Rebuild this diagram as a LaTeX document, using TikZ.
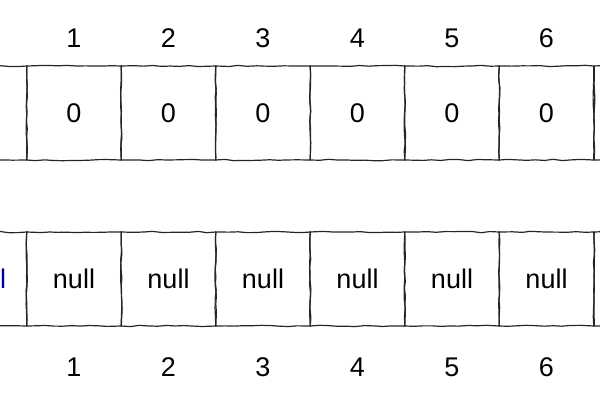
\documentclass[tikz,border=0pt]{standalone}
\usepackage{fontspec}
\setmainfont{Liberation Sans}
\usetikzlibrary{decorations.pathmorphing}

\tikzset{
  cell/.style={draw=black!85, line width=1.2pt, minimum width=94.5pt, minimum height=94pt,
    inner sep=0pt, font=\fontsize{27}{32}\selectfont,
    decorate, decoration={random steps, segment length=9pt, amplitude=0.7pt}},
  idx/.style={font=\fontsize{27}{32}\selectfont}
}

\begin{document}
\begin{tikzpicture}[x=1pt,y=-1pt]
            %\draw[very thin,color=gray] (0,0) grid[step=50] (600,400);
            \useasboundingbox (0,0) rectangle (600,400);
            \clip (0,0) rectangle (600,400);
            % upper array
            \node[cell] (a0) at (-20.5,113) {};
            \foreach \i in {1,...,6} {
                \node[cell] (a\i) at ({-20.5+94.5*\i},113) {0};
                \node[idx] (ia\i) at ({-20.5+94.5*\i},38) {\i};
            }
            \node[cell] (a7) at (641.5,113) {};
            % lower array
            \node[cell,text=blue!60!black] (b0) at (-20.5,279) {\hspace*{11pt}null};
            \foreach \i in {1,...,6} {
                \node[cell] (b\i) at ({-20.5+94.5*\i},279) {null};
                \node[idx] (ib\i) at ({-20.5+94.5*\i},367) {\i};
            }
            \node[cell] (b7) at (641.5,279) {};
        \end{tikzpicture}
\end{document}
